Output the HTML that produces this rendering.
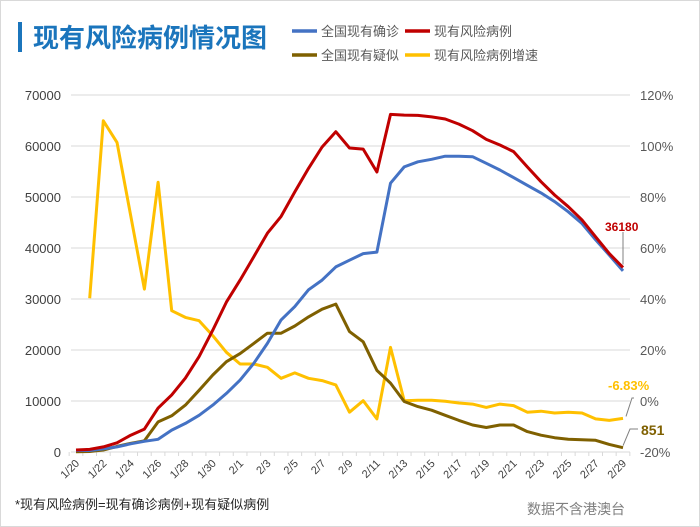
<!DOCTYPE html>
<html><head><meta charset="utf-8">
<style>
html,body{margin:0;padding:0;background:#fff;}
body{width:700px;height:527px;overflow:hidden;position:relative;font-family:"Liberation Sans","Noto Sans CJK SC",sans-serif;}
#frame{position:absolute;left:0;top:0;width:698px;height:525px;border:1px solid #d9d9d9;}
</style></head><body>
<div id="frame"></div>
<svg id="chart" width="700" height="527" style="position:absolute;left:0;top:0"></svg>
<script>
const categories = ["1/20","1/21","1/22","1/23","1/24","1/25","1/26","1/27","1/28","1/29","1/30","1/31","2/1","2/2","2/3","2/4","2/5","2/6","2/7","2/8","2/9","2/10","2/11","2/12","2/13","2/14","2/15","2/16","2/17","2/18","2/19","2/20","2/21","2/22","2/23","2/24","2/25","2/26","2/27","2/28","2/29"];
const confirmed = [300,300,600,1000,1600,2100,2500,4300,5600,7200,9200,11500,14100,17400,21300,25900,28500,31800,33700,36300,37600,38900,39200,52700,55900,56900,57400,58000,58000,57900,56600,55300,53800,52300,50800,49100,47100,44800,41600,38600,35500];
const suspected = [54,100,400,1100,1700,2200,5900,7100,9200,12100,15100,17700,19300,21300,23300,23300,24700,26500,28000,29000,23600,21600,16000,13500,9900,8900,8200,7200,6200,5300,4800,5300,5300,4000,3300,2800,2500,2400,2300,1500,851];
const risk = [400,500,1000,1800,3300,4500,8600,11200,14500,18700,23900,29400,33700,38300,42900,46200,51000,55600,59800,62800,59600,59400,54900,66200,66050,66000,65700,65300,64300,63000,61300,60200,58900,55900,53000,50400,48100,45500,42200,38900,36180];
const growth = [null,40.3,109.9,101.4,72.7,43.9,85.8,35.4,32.8,31.5,25.6,19.1,14.5,14.5,13.2,8.9,11,8.9,8,6.3,-4.4,0.1,-7,21,0.1,0.3,0.3,-0.1,-0.8,-1.2,-2.5,-1.2,-1.8,-4.4,-4,-4.7,-4.4,-4.7,-7,-7.6,-6.83];
const leftTicks = [0,10000,20000,30000,40000,50000,60000,70000];
const rightTicks = [-20,0,20,40,60,80,100,120];

const NS="http://www.w3.org/2000/svg";
const svg=document.getElementById('chart');
const X0=76, XN=623, YB=452, YT=95, GL=71, GR=630;
function x(i){return X0+(XN-X0)*i/(categories.length-1);}
function yL(v){return YB-(YB-YT)*v/70000;}
function yR(p){return YB-(YB-YT)*(p+20)/140;}
function el(tag,attrs,parent){const e=document.createElementNS(NS,tag);for(const k in attrs)e.setAttribute(k,attrs[k]);(parent||svg).appendChild(e);return e;}

// title
const tb=el('rect',{x:18,y:22,width:4,height:30,fill:'#1b75bc'});


const tt=el('text',{x:33,y:47,'font-size':26,'font-weight':'bold',fill:'#1b75bc','font-family':'"Liberation Sans","Noto Sans CJK SC",sans-serif'});
tt.textContent='现有风险病例情况图';



// legend
const legend=[['全国现有确诊','#4472c4',292,31],['现有风险病例','#c00000',405,31],['全国现有疑似','#7f6000',292,55],['现有风险病例增速','#ffc000',405,55]];
legend.forEach(l=>{
  const g=el('g',{});
  
  
  el('line',{x1:l[2],x2:l[2]+25,y1:l[3],y2:l[3],stroke:l[1],'stroke-width':3.5},g);
  const t=el('text',{x:l[2]+29,y:l[3]+5,'font-size':13,fill:'#595959'},g);
  t.textContent=l[0];
});

// grid & left axis
leftTicks.forEach(v=>{
  const gl=el('line',{x1:GL,x2:GR,y1:yL(v),y2:yL(v),stroke:'#d9d9d9','stroke-width':1});
  
  
  const t=el('text',{x:61,y:yL(v)+5,'font-size':13,fill:'#404040','text-anchor':'end'});
  t.textContent=v;
  
  
});
rightTicks.forEach(p=>{
  const t=el('text',{x:640,y:yR(p)+5,'font-size':13,fill:'#595959'});
  t.textContent=p+'%';
  
  
});
// x axis ticks and labels
const step=(XN-X0)/(categories.length-1);
for(let i=0;i<=categories.length;i++){
  const tx=X0-step/2+i*step;
  el('line',{x1:tx,x2:tx,y1:YB,y2:YB+4,stroke:'#d9d9d9'});
}
categories.forEach((c,i)=>{
  if(i%2) return;
  const t=el('text',{x:x(i)+4,y:YB+12,'font-size':11,fill:'#404040','text-anchor':'end',transform:`rotate(-45 ${x(i)+4} ${YB+12})`});
  t.textContent=c;
  
  
});

function series(arr,fy,color,name){
  let d='';let started=false;
  arr.forEach((v,i)=>{if(v===null)return;d+=(started?'L':'M')+x(i).toFixed(1)+','+fy(v).toFixed(1);started=true;});
  const p=el('path',{d:d,fill:'none',stroke:color,'stroke-width':3,'stroke-linejoin':'round'});
  
  
}
series(growth,yR,'#ffc000','risk-growth-line');
series(suspected,yL,'#7f6000','suspected-line');
series(confirmed,yL,'#4472c4','confirmed-line');
series(risk,yL,'#c00000','risk-line');

// annotations
const L=categories.length-1;
el('line',{x1:x(L),x2:x(L),y1:232,y2:yL(risk[L])-3,stroke:'#808080','stroke-width':1});
const a1=el('text',{x:605,y:231,'font-size':12,'font-weight':'bold',fill:'#c00000'});
a1.textContent=risk[L];


el('polyline',{points:`${x(L)+3},${yR(growth[L])-2} 632,398 634,398`,fill:'none',stroke:'#808080','stroke-width':1});
const a2=el('text',{x:608,y:390,'font-size':13,'font-weight':'bold',fill:'#ffc000'});
a2.textContent=growth[L]+'%';


el('polyline',{points:`${x(L)},${yL(suspected[L])-2} 630,429 638,429`,fill:'none',stroke:'#808080','stroke-width':1});
const a3=el('text',{x:641,y:435,'font-size':14,'font-weight':'bold',fill:'#7f6000'});
a3.textContent=suspected[L];



// footer
const f1=el('text',{x:15,y:509,'font-size':13,fill:'#262626'});
f1.textContent='*现有风险病例=现有确诊病例+现有疑似病例';


const f2=el('text',{x:527,y:514,'font-size':14,fill:'#7f7f7f'});
f2.textContent='数据不含港澳台';


</script>
</body></html>
